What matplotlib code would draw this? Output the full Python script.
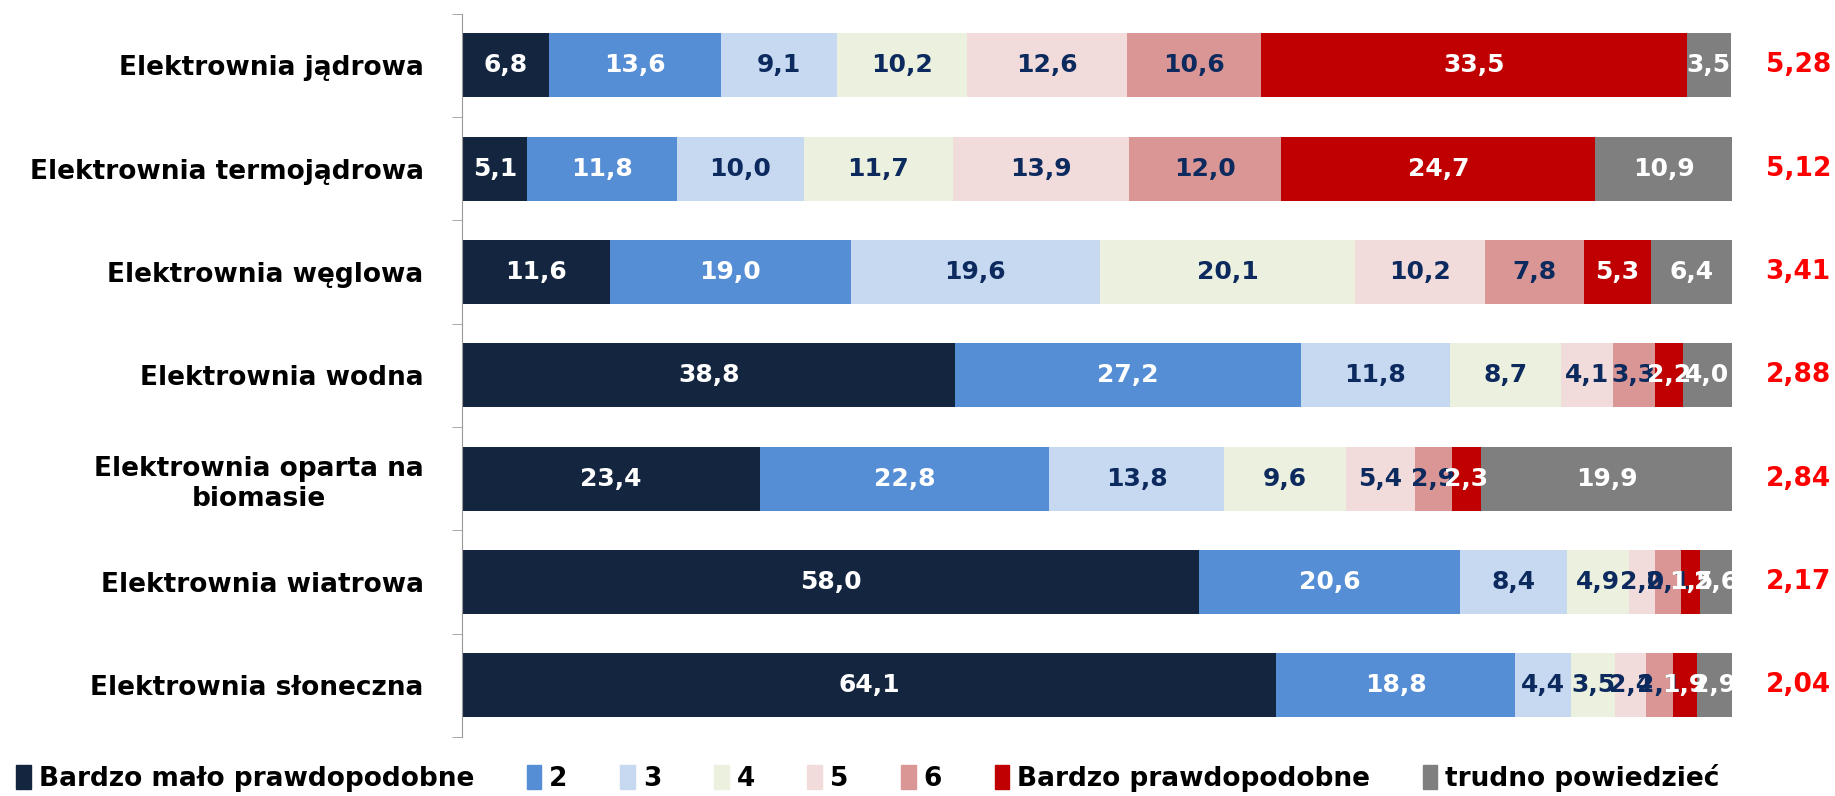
import numpy as np
import matplotlib.pyplot as plt
from matplotlib.patches import Patch

plt.rcParams['font.family'] = ['DejaVu Sans']
plt.rcParams['font.weight'] = 'bold'

# data
categories = ['Elektrownia jądrowa', 'Elektrownia termojądrowa', 'Elektrownia węglowa',
              'Elektrownia wodna', 'Elektrownia oparta na\nbiomasie',
              'Elektrownia wiatrowa', 'Elektrownia słoneczna']
series_names = ['Bardzo mało prawdopodobne', '2', '3', '4', '5', '6',
                'Bardzo prawdopodobne', 'trudno powiedzieć']
s1 = [6.8, 5.1, 11.6, 38.8, 23.4, 58.0, 64.1]
s2 = [13.6, 11.8, 19.0, 27.2, 22.8, 20.6, 18.8]
s3 = [9.1, 10.0, 19.6, 11.8, 13.8, 8.4, 4.4]
s4 = [10.2, 11.7, 20.1, 8.7, 9.6, 4.9, 3.5]
s5 = [12.6, 13.9, 10.2, 4.1, 5.4, 2.0, 2.4]
s6 = [10.6, 12.0, 7.8, 3.3, 2.9, 2.1, 2.1]
s7 = [33.5, 24.7, 5.3, 2.2, 2.3, 1.5, 1.9]
s8 = [3.5, 10.9, 6.4, 4.0, 19.9, 2.6, 2.9]
means = [5.28, 5.12, 3.41, 2.88, 2.84, 2.17, 2.04]

colors = ['#14263F', '#558ED5', '#C6D9F1', '#EBF1DE', '#F2DCDB', '#D99694', '#C00000', '#7F7F7F']
label_colors = ['white', 'white', '#0D2A5E', '#0D2A5E', '#0D2A5E', '#0D2A5E', 'white', 'white']

fig = plt.figure(figsize=(18.35, 7.96), dpi=100)
ax = fig.add_axes([0.252, 0.074, 0.692, 0.909])

y = np.arange(len(categories))
left = np.zeros(len(categories))
for vals, name, c, lc in zip([s1, s2, s3, s4, s5, s6, s7, s8], series_names, colors, label_colors):
    bars = ax.barh(y, vals, left=left, height=0.62, color=c, label=name)
    ax.bar_label(bars, labels=[f'{v:.1f}'.replace('.', ',') for v in vals],
                 label_type='center', color=lc, fontsize=18, fontweight='bold')
    left += np.array(vals)

# mean values on the right
for yi, m in zip(y, means):
    ax.text(105.2, yi, f'{m:.2f}'.replace('.', ','), color='#FF0000', fontsize=19,
            fontweight='bold', ha='center', va='center', clip_on=False)

ax.set_xlim(0, 100)
ax.set_ylim(len(categories) - 0.5, -0.5)
ax.set_yticks(y)
ax.set_yticklabels(categories, fontsize=19, fontweight='bold', multialignment='center')
ax.tick_params(axis='y', which='major', length=0, pad=28)
ax.set_yticks(np.arange(-0.5, len(categories)), minor=True)
ax.tick_params(axis='y', which='minor', length=7, color='#999999')
ax.set_xticks([])
for s in ['top', 'right', 'bottom']:
    ax.spines[s].set_visible(False)
ax.spines['left'].set_color('#999999')

handles = [Patch(color=c) for c in colors]
fig.legend(handles, series_names, loc='lower center', bbox_to_anchor=(0.473, -0.025), ncol=8,
           frameon=False, fontsize=19, handlelength=0.55, handleheight=1.0,
           handletextpad=0.3, columnspacing=2.0)

fig.savefig('out.png', dpi=100)
